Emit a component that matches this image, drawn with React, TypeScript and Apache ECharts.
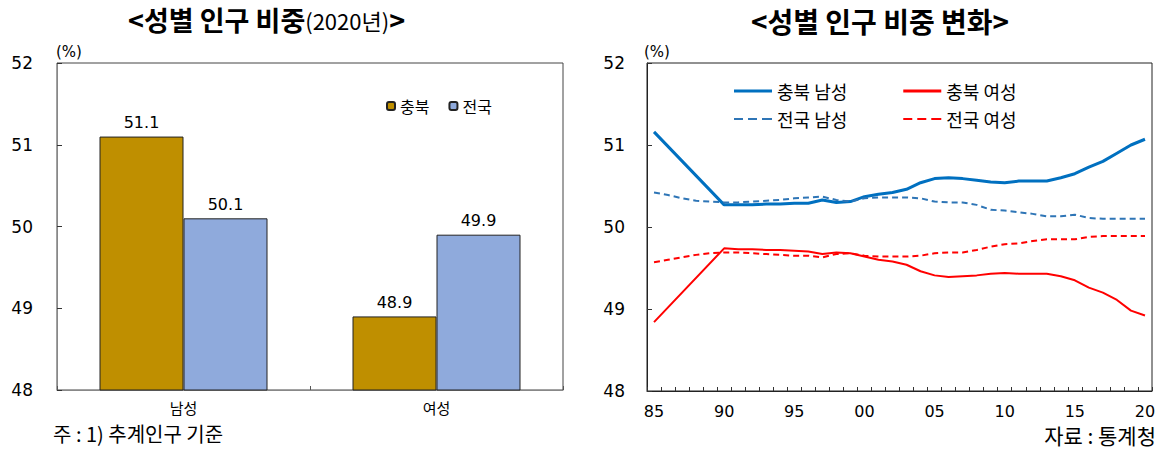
import React, { useEffect, useRef } from "react";
import * as echarts from "echarts";

// ---- Left chart data (2020) ----
const barCategories = ["남성", "여성"];
const chungbukShare = [51.1, 48.9];
const nationalShare = [50.1, 49.9];

// ---- Right chart data (1985-2020) ----
const years = [
  1985, 1986, 1987, 1988, 1989, 1990, 1991, 1992, 1993, 1994, 1995, 1996,
  1997, 1998, 1999, 2000, 2001, 2002, 2003, 2004, 2005, 2006, 2007, 2008,
  2009, 2010, 2011, 2012, 2013, 2014, 2015, 2016, 2017, 2018, 2019, 2020,
];
const cbMale = [
  51.16, null, null, null, null, 50.27, 50.27, 50.27, 50.28, 50.28, 50.29, 50.29,
  50.33, 50.3, 50.31, 50.37, 50.4, 50.42, 50.46, 50.54, 50.59, 50.6, 50.59, 50.57,
  50.55, 50.54, 50.56, 50.56, 50.56, 50.6, 50.65, 50.73, 50.8, 50.9, 51.0, 51.07,
];
const cbFemale = [
  48.84, null, null, null, null, 49.74, 49.73, 49.73, 49.72, 49.72, 49.71, 49.7,
  49.67, 49.69, 49.68, 49.64, 49.6, 49.58, 49.54, 49.46, 49.41, 49.39, 49.4, 49.41,
  49.43, 49.44, 49.43, 49.43, 49.43, 49.4, 49.35, 49.26, 49.2, 49.11, 48.98, 48.92,
];
const nationMale = [
  50.42, 50.39, 50.35, 50.32, 50.31, 50.3, 50.3, 50.31, 50.32, 50.33, 50.35, 50.36,
  50.37, 50.33, 50.31, 50.35, 50.36, 50.36, 50.36, 50.35, 50.31, 50.3, 50.3, 50.27,
  50.21, 50.2, 50.18, 50.16, 50.13, 50.13, 50.15, 50.11, 50.1, 50.1, 50.1, 50.1,
];
const nationFemale = [
  49.57, 49.6, 49.63, 49.66, 49.68, 49.69, 49.69, 49.68, 49.67, 49.66, 49.65, 49.65,
  49.63, 49.67, 49.68, 49.65, 49.64, 49.64, 49.64, 49.65, 49.68, 49.69, 49.69, 49.72,
  49.76, 49.79, 49.8, 49.83, 49.85, 49.85, 49.85, 49.88, 49.89, 49.89, 49.89, 49.89,
];

const KR = '"Noto Sans CJK KR", "Noto Sans", sans-serif';
const NUM = '"DejaVu Sans", sans-serif';

const SOLID_ICON = "path://M0,0h38v3h-38z";
const DASH_ICON = "path://M0,0h9v2h-9z M14,0h9v2h-9z M28,0h10v2h-10z";

export default function App() {
  const ref = useRef<HTMLDivElement>(null);

  useEffect(() => {
    if (!ref.current) return;
    const chart = echarts.init(ref.current, null, { renderer: "svg" });

    const yAxisCommon = (gridIndex: number, margin: number) => ({
      type: "value",
      gridIndex,
      min: 48,
      max: 52,
      interval: 1,
      axisLine: { show: true, lineStyle: { color: gridIndex === 0 ? "#888" : "#222", width: 1 } },
      axisTick: { show: true, inside: true, length: 5, lineStyle: { color: "#333" } },
      axisLabel: { margin, fontSize: 17, color: "#000", fontFamily: NUM },
      splitLine: { show: false },
    });

    const lineLegend = (names: string[], icon: string, h: number, top: number) => ({
      data: names.map((n) => ({ name: n, icon })),
      left: 729,
      top,
      itemWidth: 38,
      itemHeight: h,
      itemGap: 56,
      textStyle: { fontSize: 18, color: "#000", fontFamily: KR, width: 86 },
    });

    chart.setOption({
      animation: false,
      backgroundColor: "#fff",
      grid: [
        { left: 57, top: 63, width: 506, height: 327, show: true, borderColor: "#444", borderWidth: 1 },
        { left: 647, top: 63, width: 505, height: 328, show: true, borderColor: "#222", borderWidth: 1 },
      ],
      xAxis: [
        {
          type: "category",
          gridIndex: 0,
          data: barCategories,
          axisLine: { lineStyle: { color: "#888", width: 1 } },
          axisTick: { show: true, inside: true, length: 4, interval: 0, lineStyle: { color: "#555" } },
          axisLabel: { margin: 10, fontSize: 15, color: "#000", fontFamily: KR },
        },
        {
          type: "category",
          gridIndex: 1,
          data: years,
          boundaryGap: true,
          axisLine: { lineStyle: { color: "#222", width: 1 } },
          axisTick: { show: true, inside: true, length: 4, interval: 0, lineStyle: { color: "#333" } },
          axisLabel: {
            margin: 12,
            fontSize: 16,
            color: "#000",
            fontFamily: NUM,
            interval: (i: number) => i % 5 === 0,
            formatter: (v: string) => String(v).slice(2),
          },
        },
      ],
      yAxis: [yAxisCommon(0, 24), yAxisCommon(1, 22)],
      legend: [
        {
          data: ["충북", "전국"],
          left: 381,
          top: 93,
          itemWidth: 8,
          itemHeight: 8,
          itemGap: 19,
          textStyle: { fontSize: 16, color: "#000", fontFamily: KR },
        },
        lineLegend(["충북 남성", "충북 여성"], SOLID_ICON, 3, 77),
        lineLegend(["전국 남성", "전국 여성"], DASH_ICON, 2, 105),
      ],
      series: [
        {
          name: "충북",
          type: "bar",
          xAxisIndex: 0,
          yAxisIndex: 0,
          data: chungbukShare,
          barWidth: 84,
          barGap: "0%",
          itemStyle: { color: "#BF8F00", borderColor: "#222", borderWidth: 1 },
          label: { show: true, position: "top", distance: 6, fontSize: 16, color: "#000", fontFamily: NUM },
        },
        {
          name: "전국",
          type: "bar",
          xAxisIndex: 0,
          yAxisIndex: 0,
          data: nationalShare,
          barWidth: 84,
          barGap: "0%",
          itemStyle: { color: "#8FAADC", borderColor: "#222", borderWidth: 1 },
          label: { show: true, position: "top", distance: 6, fontSize: 16, color: "#000", fontFamily: NUM },
        },
        {
          name: "충북 남성",
          type: "line",
          xAxisIndex: 1,
          yAxisIndex: 1,
          data: cbMale,
          connectNulls: true,
          symbol: "none",
          lineStyle: { color: "#0070C0", width: 3 },
          itemStyle: { color: "#0070C0" },
        },
        {
          name: "충북 여성",
          type: "line",
          xAxisIndex: 1,
          yAxisIndex: 1,
          data: cbFemale,
          connectNulls: true,
          symbol: "none",
          lineStyle: { color: "#FF0000", width: 2 },
          itemStyle: { color: "#FF0000" },
        },
        {
          name: "전국 남성",
          type: "line",
          xAxisIndex: 1,
          yAxisIndex: 1,
          data: nationMale,
          symbol: "none",
          lineStyle: { color: "#2E75B6", width: 2, type: [6, 4] },
          itemStyle: { color: "#2E75B6" },
        },
        {
          name: "전국 여성",
          type: "line",
          xAxisIndex: 1,
          yAxisIndex: 1,
          data: nationFemale,
          symbol: "none",
          lineStyle: { color: "#FF0000", width: 2, type: [6, 4] },
          itemStyle: { color: "#FF0000" },
        },
      ],
      graphic: [
        {
          type: "text",
          left: 128,
          top: 6,
          style: {
            text: "{b|<성별 인구 비중}{n|(2020년)}{b|>}",
            rich: {
              b: { fontSize: 27, lineHeight: 30, fontWeight: "bold", fontFamily: KR, fill: "#000" },
              n: { fontSize: 22, lineHeight: 30, fontFamily: KR, fill: "#000" },
            },
          },
        },
        {
          type: "text",
          x: 880,
          y: 6,
          style: {
            text: "<성별 인구 비중 변화>",
            fontSize: 28,
            lineHeight: 30,
            fontWeight: "bold",
            fontFamily: KR,
            fill: "#000",
            align: "center",
          },
        },
        {
          type: "text",
          left: 56,
          top: 44,
          style: { text: "(%)", fontSize: 15, fontFamily: NUM, fill: "#000" },
        },
        {
          type: "text",
          left: 644,
          top: 44,
          style: { text: "(%)", fontSize: 15, fontFamily: NUM, fill: "#000" },
        },
        {
          type: "text",
          left: 53,
          top: 423,
          style: { text: "주 : 1) 추계인구 기준", fontSize: 20, fontFamily: KR, fill: "#000" },
        },
        {
          type: "text",
          right: 10,
          top: 424,
          style: { text: "자료 : 통계청", fontSize: 21, fontFamily: KR, fill: "#000" },
        },
      ],
    });

    return () => chart.dispose();
  }, []);

  return (
    <div
      ref={ref}
      style={{ position: "fixed", left: 0, top: 0, width: 1166, height: 449, background: "#fff" }}
    />
  );
}
